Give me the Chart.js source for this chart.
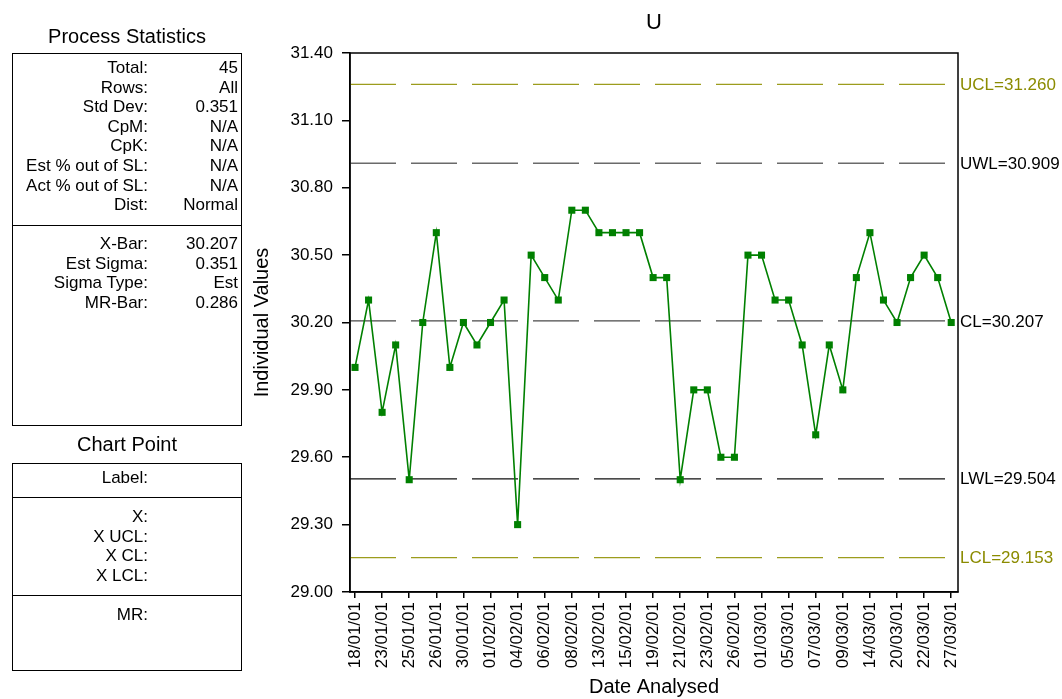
<!DOCTYPE html>
<html>
<head>
    <meta charset="utf-8">
    <title>U Chart</title>
    <script src="https://cdn.jsdelivr.net/npm/chart.js"></script>
    <style>
        body {
            margin: 0;
            background: #fff;
            font-family: "Liberation Sans", Arial, sans-serif;
            color: #000;
        }
        #wrap {
            position: relative;
            width: 1062px;
            height: 699px;
            overflow: hidden;
        }
        canvas {
            position: absolute;
            left: 0;
            top: 0;
        }
        .ptitle {
            position: absolute;
            left: 12px;
            width: 230px;
            text-align: center;
            font-size: 20px;
            line-height: 22px;
        }
        .box {
            position: absolute;
            left: 12px;
            width: 228px;
            border: 1px solid #000;
        }
        .sep {
            position: absolute;
            left: 12px;
            width: 230px;
            height: 1px;
            background: #000;
        }
        .row {
            position: absolute;
            left: 0;
            width: 260px;
            height: 20px;
            font-size: 17px;
            line-height: 20px;
        }
        .row .k {
            position: absolute;
            right: 112px;
            text-align: right;
            white-space: nowrap;
        }
        .row .v {
            position: absolute;
            right: 22px;
            text-align: right;
            white-space: nowrap;
        }
    </style>
</head>
<body>
<div id="wrap">
    <canvas id="uChart" width="1062" height="699"></canvas>
    <div id="panels"></div>
</div>

<script>
    // individual values, one per sample
    const values = [
        30.0, 30.3, 29.8, 30.1, 29.5, 30.2, 30.6, 30.0, 30.2, 30.1,
        30.2, 30.3, 29.3, 30.5, 30.4, 30.3, 30.7, 30.7, 30.6, 30.6,
        30.6, 30.6, 30.4, 30.4, 29.5, 29.9, 29.9, 29.6, 29.6, 30.5,
        30.5, 30.3, 30.3, 30.1, 29.7, 30.1, 29.9, 30.4, 30.6, 30.3,
        30.2, 30.4, 30.5, 30.4, 30.2
    ];
    // every second sample carries a date label
    const xTickLabels = [
        '18/01/01', '23/01/01', '25/01/01', '26/01/01', '30/01/01', '01/02/01',
        '04/02/01', '06/02/01', '08/02/01', '13/02/01', '15/02/01', '19/02/01',
        '21/02/01', '23/02/01', '26/02/01', '01/03/01', '05/03/01', '07/03/01',
        '09/03/01', '14/03/01', '20/03/01', '22/03/01', '27/03/01'
    ];
    const yTickValues = [29.0, 29.3, 29.6, 29.9, 30.2, 30.5, 30.8, 31.1, 31.4];

    const limitNames = ['UCL', 'UWL', 'CL', 'LWL', 'LCL'];
    const limitValues = [31.260, 30.909, 30.207, 29.504, 29.153];
    const limitLineColors = ['#9c9c1c', '#6a6a6a', '#4a4a4a', '#111111', '#9c9c1c'];
    const limitTextColors = ['#8b8b00', '#000', '#000', '#000', '#8b8b00'];

    const statLabels = ['Total', 'Rows', 'Std Dev', 'CpM', 'CpK', 'Est % out of SL', 'Act % out of SL', 'Dist'];
    const statValues = ['45', 'All', '0.351', 'N/A', 'N/A', 'N/A', 'N/A', 'Normal'];
    const sigmaLabels = ['X-Bar', 'Est Sigma', 'Sigma Type', 'MR-Bar'];
    const sigmaValues = ['30.207', '0.351', 'Est', '0.286'];
    const pointLabels = ['X', 'X UCL', 'X CL', 'X LCL'];

    // ---- side panels (plain html) ----
    const panels = document.getElementById('panels');
    function add(html) { panels.insertAdjacentHTML('beforeend', html); }
    function row(top, k, v) {
        add(`<div class="row" style="top:${top}px"><span class="k">${k}:</span><span class="v">${v || ''}</span></div>`);
    }

    add('<div class="ptitle" style="top:25px">Process Statistics</div>');
    add('<div class="box" style="top:53px;height:371px"></div>');
    add('<div class="sep" style="top:225px"></div>');
    statLabels.forEach((k, i) => row(58 + i * 19.6, k, statValues[i]));
    sigmaLabels.forEach((k, i) => row(234 + i * 19.6, k, sigmaValues[i]));

    add('<div class="ptitle" style="top:433px">Chart Point</div>');
    add('<div class="box" style="top:463px;height:206px"></div>');
    add('<div class="sep" style="top:497px"></div>');
    add('<div class="sep" style="top:595px"></div>');
    row(468, 'Label');
    pointLabels.forEach((k, i) => row(507 + i * 19.6, k));
    row(605, 'MR');

    // ---- chart ----
    const FONT = '"Liberation Sans", Arial, sans-serif';

    const controlLines = {
        id: 'controlLines',
        beforeDatasetsDraw(chart) {
            const ctx = chart.ctx;
            const area = chart.chartArea;
            const y = chart.scales.y;
            ctx.save();
            ctx.lineWidth = 1.3;
            ctx.setLineDash([46, 15]);
            limitValues.forEach((v, i) => {
                const py = y.getPixelForValue(v);
                ctx.strokeStyle = limitLineColors[i];
                ctx.beginPath();
                ctx.moveTo(area.left, py);
                ctx.lineTo(area.right, py);
                ctx.stroke();
            });
            ctx.restore();
        },
        afterDraw(chart) {
            const ctx = chart.ctx;
            const area = chart.chartArea;
            const y = chart.scales.y;
            ctx.save();
            // frame
            ctx.strokeStyle = '#000';
            ctx.lineWidth = 1.5;
            ctx.strokeRect(area.left, area.top, area.right - area.left, area.bottom - area.top);
            // limit labels
            ctx.font = '17px ' + FONT;
            ctx.textBaseline = 'middle';
            ctx.textAlign = 'left';
            limitValues.forEach((v, i) => {
                ctx.fillStyle = limitTextColors[i];
                ctx.fillText(limitNames[i] + '=' + v.toFixed(3), area.right + 2, y.getPixelForValue(v) + 1);
            });
            // title
            ctx.fillStyle = '#000';
            ctx.font = '22px ' + FONT;
            ctx.textAlign = 'center';
            ctx.fillText('U', (area.left + area.right) / 2, 23);
            ctx.restore();
        }
    };

    const ctx = document.getElementById('uChart').getContext('2d');
    new Chart(ctx, {
        type: 'line',
        data: {
            datasets: [{
                data: values.map((v, i) => ({ x: i, y: v })),
                borderColor: '#008000',
                backgroundColor: '#008000',
                borderWidth: 1.6,
                tension: 0,
                pointStyle: 'rect',
                pointRadius: 5,
                pointBorderWidth: 0,
                pointHoverRadius: 5
            }]
        },
        options: {
            responsive: false,
            animation: false,
            events: [],
            layout: {
                padding: { left: 250, right: 104, top: 53, bottom: 0 }
            },
            plugins: {
                legend: { display: false },
                tooltip: { enabled: false },
                title: { display: false }
            },
            scales: {
                x: {
                    type: 'linear',
                    min: -0.37,
                    max: 44.5,
                    afterFit(scale) { scale.height = 107; },
                    afterBuildTicks(scale) {
                        scale.ticks = xTickLabels.map((l, i) => ({ value: i * 2 }));
                    },
                    grid: {
                        drawOnChartArea: false,
                        drawTicks: true,
                        tickLength: 6,
                        color: '#000',
                        lineWidth: 1.5
                    },
                    border: { color: '#000', width: 1.5 },
                    ticks: {
                        autoSkip: false,
                        minRotation: 90,
                        maxRotation: 90,
                        padding: 4,
                        color: '#000',
                        font: { family: FONT, size: 17 },
                        callback: (v, i) => xTickLabels[i]
                    },
                    title: {
                        display: true,
                        text: 'Date Analysed',
                        color: '#000',
                        font: { family: FONT, size: 20 },
                        padding: { top: 0, bottom: 0 }
                    }
                },
                y: {
                    min: 29.0,
                    max: 31.4,
                    afterFit(scale) { scale.width = 100; },
                    afterBuildTicks(scale) {
                        scale.ticks = yTickValues.map(v => ({ value: v }));
                    },
                    grid: {
                        drawOnChartArea: false,
                        drawTicks: true,
                        tickLength: 8,
                        color: '#000',
                        lineWidth: 1.5
                    },
                    border: { color: '#000', width: 1.5 },
                    ticks: {
                        padding: 9,
                        color: '#000',
                        font: { family: FONT, size: 17 },
                        callback: v => v.toFixed(2)
                    },
                    title: {
                        display: true,
                        text: 'Individual Values',
                        color: '#000',
                        font: { family: FONT, size: 20 },
                        padding: { top: 0, bottom: 0 }
                    }
                }
            }
        },
        plugins: [controlLines]
    });
</script>
</body>
</html>
